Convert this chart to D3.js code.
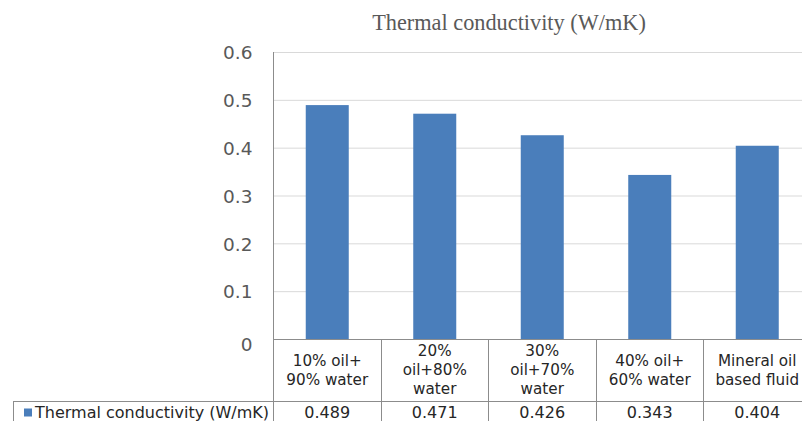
<!DOCTYPE html>
<html>
<head>
<meta charset="utf-8">
<script src="https://cdn.jsdelivr.net/npm/d3@7"></script>
<style>
  html, body { margin: 0; padding: 0; background: #fff; }
  svg { display: block; }
</style>
</head>
<body>
<div id="chart"></div>
<script>
// ---- data ----
const categories = [
  ["10% oil+", "90% water"],
  ["20%", "oil+80%", "water"],
  ["30%", "oil+70%", "water"],
  ["40% oil+", "60% water"],
  ["Mineral oil", "based fluid"]
];
const values = [0.489, 0.471, 0.426, 0.343, 0.404];
const valueLabels = ["0.489", "0.471", "0.426", "0.343", "0.404"];
const yTicks = [0, 0.1, 0.2, 0.3, 0.4, 0.5, 0.6];
const seriesName = "Thermal conductivity (W/mK)";
const title = "Thermal conductivity (W/mK)";

// ---- layout ----
const W = 802, H = 421;
const plotLeft = 273.5, step = 107.5;
const plotTop = 52, plotBottom = 339;
const rowLine = 401;
const barColor = "#4a7ebb";

const svg = d3.select("#chart").append("svg").attr("width", W).attr("height", H);

const x = d3.scaleBand()
  .domain(d3.range(categories.length))
  .range([plotLeft, plotLeft + step * categories.length])
  .paddingInner(0).paddingOuter(0);
const y = d3.scaleLinear().domain([0, 0.6]).range([plotBottom, plotTop]);

// title
svg.append("text")
  .attr("x", 509).attr("y", 30)
  .attr("text-anchor", "middle")
  .attr("font-family", "'Liberation Serif', 'Times New Roman', serif")
  .attr("font-size", 22.3)
  .attr("fill", "#595959")
  .text(title);

// y axis with gridlines
const yAxis = d3.axisLeft(y)
  .tickValues(yTicks)
  .tickFormat(d => d === 0 ? "0" : d3.format(".1f")(d))
  .tickSizeInner(-(W - plotLeft + 20))
  .tickSizeOuter(0)
  .tickPadding(21);
const gy = svg.append("g").attr("transform", `translate(${plotLeft},0)`).call(yAxis);
gy.select(".domain").remove();
gy.selectAll(".tick line").attr("stroke", d => d === 0 ? "#8c8c8c" : "#d9d9d9").attr("stroke-width", 1);
gy.selectAll(".tick text")
  .attr("font-family", "'DejaVu Sans', sans-serif")
  .attr("font-size", 18.5)
  .attr("fill", "#595959")
  .attr("dy", d => d === 0 ? "0.62em" : "0.36em");

// bars
const barW = 43;
svg.append("g").selectAll("rect")
  .data(values)
  .join("rect")
  .attr("x", (d, i) => x(i) + x.bandwidth() / 2 - barW / 2)
  .attr("y", d => y(d))
  .attr("width", barW)
  .attr("height", d => y(0) - y(d))
  .attr("fill", barColor);

// table lines
const lineColor = "#8c8c8c";
const tg = svg.append("g").attr("stroke", lineColor).attr("stroke-width", 1).attr("shape-rendering", "crispEdges");
tg.append("line").attr("x1", plotLeft).attr("x2", plotLeft).attr("y1", plotTop).attr("y2", H);
d3.range(1, categories.length + 1).forEach(i => {
  const xx = plotLeft + step * i;
  tg.append("line").attr("x1", xx).attr("x2", xx).attr("y1", plotBottom).attr("y2", H);
});
tg.append("line").attr("x1", 13).attr("x2", W).attr("y1", rowLine).attr("y2", rowLine);
tg.append("line").attr("x1", 13).attr("x2", 13).attr("y1", rowLine).attr("y2", H);
tg.append("line").attr("x1", plotLeft).attr("x2", W).attr("y1", plotBottom).attr("y2", plotBottom);

// category labels
const lh = 19;
const catG = svg.append("g");
categories.forEach((lines, i) => {
  const cx = x(i) + x.bandwidth() / 2;
  const t = catG.append("text")
    .attr("text-anchor", "middle")
    .attr("font-family", "'DejaVu Sans', sans-serif")
    .attr("font-size", 15.2)
    .attr("fill", "#262626");
  const startY = 370 - (lines.length - 1) * lh / 2;
  lines.forEach((ln, j) => {
    t.append("tspan").attr("x", cx).attr("y", startY + j * lh).attr("dy", "0.36em").text(ln);
  });
});

// data row values
svg.append("g").selectAll("text")
  .data(valueLabels)
  .join("text")
  .attr("x", (d, i) => x(i) + x.bandwidth() / 2)
  .attr("y", 412).attr("dy", "0.36em")
  .attr("text-anchor", "middle")
  .attr("font-family", "'DejaVu Sans', sans-serif")
  .attr("font-size", 16)
  .attr("fill", "#262626")
  .text(d => d);

// legend key + series name
svg.append("rect").attr("x", 24).attr("y", 408.5).attr("width", 8).attr("height", 8).attr("fill", barColor);
svg.append("text")
  .attr("x", 35).attr("y", 412).attr("dy", "0.36em")
  .attr("font-family", "'DejaVu Sans', sans-serif")
  .attr("font-size", 16)
  .attr("fill", "#262626")
  .text(seriesName);
</script>
</body>
</html>
